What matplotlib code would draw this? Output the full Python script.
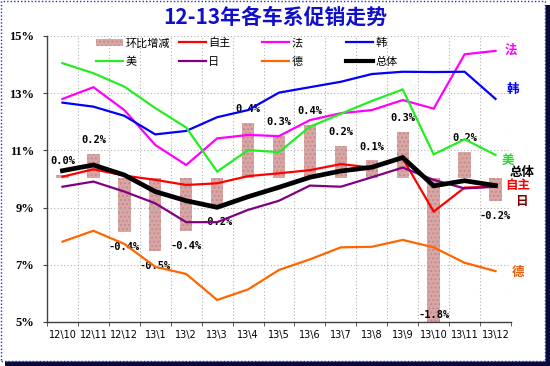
import matplotlib
matplotlib.use("Agg")
import matplotlib.pyplot as plt
from matplotlib.patches import Rectangle, Patch
from matplotlib.lines import Line2D
import numpy as np

plt.rcParams['font.family'] = ['Noto Sans CJK SC', 'DejaVu Sans']

categories = ["12\\10", "12\\11", "12\\12", "13\\1", "13\\2", "13\\3", "13\\4", "13\\5",
              "13\\6", "13\\7", "13\\8", "13\\9", "13\\10", "13\\11", "13\\12"]

mom_change = [0.02, 0.18, -0.40, -0.54, -0.39, -0.21, 0.41, 0.31, 0.39, 0.24, 0.13, 0.34, -1.80, 0.19, -0.17]
mom_labels = ["0.0%", "0.2%", "-0.4%", "-0.5%", "-0.4%", "-0.2%", "0.4%", "0.3%", "0.4%", "0.2%",
              "0.1%", "0.3%", "-1.8%", "0.2%", "-0.2%"]

zizhu = [10.08, 10.34, 10.12, 9.97, 9.79, 9.85, 10.10, 10.20, 10.31, 10.52, 10.40, 10.72, 8.86, 9.70, 9.73]
fa    = [12.80, 13.21, 12.41, 11.19, 10.49, 11.42, 11.54, 11.50, 12.06, 12.30, 12.41, 12.76, 12.46, 14.36, 14.48]
han   = [12.67, 12.53, 12.21, 11.56, 11.68, 12.16, 12.41, 13.02, 13.21, 13.40, 13.67, 13.75, 13.74, 13.75, 12.80]
mei   = [14.05, 13.70, 13.23, 12.48, 11.80, 10.26, 11.01, 10.94, 11.83, 12.28, 12.73, 13.13, 10.86, 11.39, 10.84]
ri    = [9.73, 9.91, 9.56, 9.15, 8.49, 8.49, 8.92, 9.24, 9.77, 9.73, 10.06, 10.40, 9.97, 9.67, 9.73]
de    = [7.81, 8.19, 7.73, 6.93, 6.68, 5.77, 6.14, 6.82, 7.19, 7.61, 7.63, 7.87, 7.61, 7.07, 6.78]
total = [10.29, 10.49, 10.14, 9.56, 9.24, 9.01, 9.38, 9.71, 10.06, 10.28, 10.41, 10.75, 9.76, 9.94, 9.77]

yticks = [5, 7, 9, 11, 13, 15]
ytick_labels = ["5%", "7%", "9%", "11%", "13%", "15%"]

W, H = 550, 366
fig = plt.figure(figsize=(W / 100, H / 100), dpi=100)

# frame with shadow
fig.patches.append(Rectangle((5 / W, 0), (W - 5) / W, (H - 5) / H, transform=fig.transFigure,
                             facecolor="#0a0a3a", edgecolor="none", zorder=-10))
fig.patches.append(Rectangle((1 / W, 5 / H), (W - 6) / W, (H - 6) / H, transform=fig.transFigure,
                             facecolor="white", edgecolor="#2030c0", linestyle=(0, (1, 1.5)),
                             linewidth=1.0, zorder=-9))

left, right, top, bottom = 47, 511, 36, 322
ax = fig.add_axes([left / W, 1 - bottom / H, (right - left) / W, (bottom - top) / H])
ax2 = ax.twinx()
ax.set_zorder(ax2.get_zorder() + 1)
ax.patch.set_visible(False)
ax2.patch.set_visible(False)

x = np.arange(len(categories))

# bars on secondary scale
bar_color = "#D9A6A6"
ax2.bar(x, mom_change, width=0.4, color=bar_color, edgecolor="#C58A8A", hatch="....",
        linewidth=0, zorder=1)
ax2.set_ylim(-1.067, 1.052)
ax2.set_yticks([])
for s in ax2.spines.values():
    s.set_visible(False)

ymin2 = ax2.get_ylim()[0]
for xi, v, lab in zip(x, mom_change, mom_labels):
    if v < ymin2:
        # bar runs off the bottom: keep its label just inside the plot
        ax2.annotate(lab, (xi, ymin2), xytext=(0, 5), textcoords="offset points",
                     ha="center", va="center", fontsize=7.5, fontweight="bold",
                     family="DejaVu Sans Mono", annotation_clip=False, zorder=5)
        continue
    off = 10 if v >= 0 else -11
    ax2.annotate(lab, (xi, v), xytext=(0, off), textcoords="offset points",
                 ha="center", va="center", fontsize=7.5, fontweight="bold",
                 family="DejaVu Sans Mono", annotation_clip=False, zorder=5)

# lines
series = [
    ("自主", zizhu, "#FF0000", 1.6),
    ("法", fa, "#FF00FF", 1.6),
    ("韩", han, "#0000FF", 1.6),
    ("美", mei, "#22EE22", 1.6),
    ("日", ri, "#800080", 1.6),
    ("德", de, "#FF6600", 1.6),
    ("总体", total, "#000000", 3.4),
]
handles = {}
for name, vals, col, lw in series:
    ax.plot(x, vals, color=col, lw=lw, zorder=3 if name != "总体" else 4,
            solid_joinstyle="miter")
    handles[name] = Line2D([], [], color=col, lw=lw if name != "总体" else 3.0)
handles["环比增减"] = Patch(facecolor=bar_color, edgecolor="#C58A8A", hatch="....", linewidth=0)

ax.set_xlim(-0.5, len(categories) - 0.5)
ax.set_ylim(5, 15)
ax.set_yticks(yticks)
ax.set_yticklabels(ytick_labels, family="Liberation Serif", fontweight="bold", fontsize=9)
ax.set_xticks(x)
ax.set_xticklabels(categories, family="DejaVu Sans", fontsize=7)
ax.set_xticks(np.arange(-0.5, len(categories), 1), minor=True)
ax.tick_params(axis="x", which="major", length=0, pad=6)
ax.tick_params(axis="x", which="minor", length=3, direction="out", color="#404040")
ax.tick_params(axis="y", length=3, direction="out", color="#404040", pad=6)
ax.grid(axis="x", which="minor", linestyle=(0, (1, 2)), color="#b0b0b0", lw=0.8)
ax.grid(axis="y", which="major", linestyle=(0, (1, 2)), color="#b0b0b0", lw=0.8)
for s in ["top", "right"]:
    ax.spines[s].set_visible(False)
for s in ["left", "bottom"]:
    ax.spines[s].set_color("#404040")
    ax.spines[s].set_linewidth(1.0)

# legend in four columns
cols = [["环比增减", "美"], ["自主", "日"], ["法", "德"], ["韩", "总体"]]
xs = [96, 179, 262, 346]
for cx, names in zip(xs, cols):
    fig.legend([handles[n] for n in names], names, loc="upper left",
               bbox_to_anchor=(cx / W, 1 - 38 / H), frameon=False, fontsize=8,
               handlelength=2.4, handletextpad=0.25, labelspacing=0.75,
               borderpad=0, borderaxespad=0)

# title
fig.text(0.5, 1 - 17 / H, "12-13年各车系促销走势", ha="center", va="center",
         fontsize=15, fontweight="bold", color="#1010C8")

# right-side series labels
side = [("法", 511, 50, "#FF00FF"), ("韩", 513, 89, "#0000FF"), ("美", 508, 160, "#22DD22"),
        ("总体", 522, 172, "#000000"), ("自主", 518, 185, "#FF0000"),
        ("日", 521, 201, "#800000"), ("德", 518, 272, "#E06010")]
for t, px, py, c in side:
    fig.text(px / W, 1 - py / H, t, ha="center", va="center", fontsize=9,
             fontweight="bold", color=c)

fig.savefig("out.png", dpi=100)
